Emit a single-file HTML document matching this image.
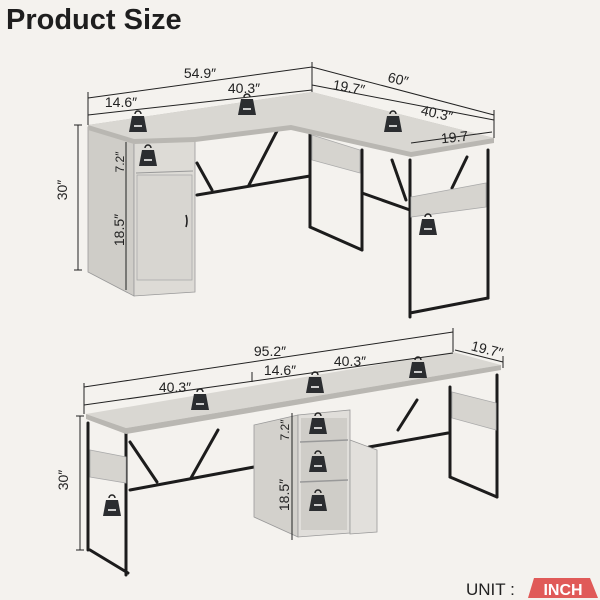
<!DOCTYPE html>
<html><head><meta charset="utf-8"><style>
html,body{margin:0;padding:0;background:#f4f2ee;}
svg{display:block;font-family:"Liberation Sans",sans-serif;}
</style></head><body>
<svg width="600" height="600" viewBox="0 0 600 600">
<defs>
<g id="bag"><path d="M-3,-10 a3,3 0 0 1 6,0" fill="none" stroke="#222" stroke-width="1.5"/><path d="M-6,-8 L6,-8 L9,8 L-9,8 Z" fill="#2b2d30"/><rect x="-4" y="1" width="8" height="2" fill="#ccc"/></g>
</defs>
<rect width="600" height="600" fill="#f4f2ee"/>
<text x="6" y="29" font-size="29" font-weight="bold" fill="#1e1e1e">Product Size</text>

<!-- TOP DESK -->
<g stroke="#1c1c1c" stroke-width="3" fill="none" stroke-linecap="round">
<line x1="197" y1="195" x2="310" y2="176"/>
<line x1="197" y1="163" x2="212" y2="190"/>
<line x1="279" y1="127" x2="249" y2="185"/>
<line x1="310" y1="133" x2="310" y2="227"/>
<line x1="362" y1="150" x2="362" y2="250"/>
<line x1="310" y1="227" x2="362" y2="250"/>
<line x1="362" y1="193" x2="410" y2="210"/>
<line x1="410" y1="160" x2="410" y2="317"/>
<line x1="488" y1="150" x2="488" y2="298"/>
<line x1="410" y1="313" x2="488" y2="298"/>
<line x1="392" y1="160" x2="406" y2="200"/>
<line x1="467" y1="157" x2="452" y2="188"/>
</g>
<polygon points="312,135 360,150 360,173 312,160" fill="#d6d4cf" stroke="#aaa" stroke-width="0.8"/>
<polygon points="411,197 486,183 486,207 411,217" fill="#d6d4cf" stroke="#aaa" stroke-width="0.8"/>
<!-- cabinet -->
<polygon points="88,127 134,140 134,296 88,272" fill="#cfcdc8" stroke="#999" stroke-width="0.8"/>
<polygon points="134,140 195,138 195,292 134,296" fill="#dddbd6" stroke="#999" stroke-width="0.8"/>
<line x1="136" y1="173" x2="193" y2="171" stroke="#999"/>
<rect x="137" y="175" width="55" height="105" fill="#d8d6d1" stroke="#aaa" stroke-width="0.8"/>
<path d="M186,215 q2,6 0,12" stroke="#222" stroke-width="1.6" fill="none"/>
<!-- top surface -->
<polygon points="88,125 312,92 494,138 494,143 411,157 291,130 195,142 134,144 88,130" fill="#b9b7b2"/>
<polygon points="88,125 312,92 494,138 411,152 291,125 195,137 134,139" fill="#d9d7d2"/>
<!-- dims top -->
<g stroke="#222" stroke-width="1" fill="none">
<line x1="88" y1="98" x2="312" y2="67"/><line x1="88" y1="115" x2="312" y2="90"/>
<line x1="312" y1="67" x2="494" y2="115"/><line x1="312" y1="85" x2="494" y2="120"/>
<line x1="88" y1="92" x2="88" y2="125"/><line x1="312" y1="62" x2="312" y2="92"/><line x1="494" y1="110" x2="494" y2="138"/>
<line x1="411" y1="143" x2="492" y2="132"/>
<line x1="78" y1="125" x2="78" y2="270"/><line x1="74" y1="125" x2="82" y2="125"/><line x1="74" y1="270" x2="82" y2="270"/>
<line x1="126" y1="142" x2="126" y2="290"/>
</g>
<g font-size="14" fill="#222" text-anchor="middle">
<text x="200" y="78">54.9″</text>
<text x="244" y="93">40.3″</text>
<text x="121" y="107">14.6″</text>
<text x="348" y="92" transform="rotate(10 348 92)">19.7″</text>
<text x="397" y="84" transform="rotate(14 397 84)">60″</text>
<text x="436" y="118" transform="rotate(12 436 118)">40.3″</text>
<text x="455" y="142" transform="rotate(-6 455 142)">19.7</text>
<text x="67" y="190" transform="rotate(-90 67 190)">30″</text>
<text x="124" y="162" transform="rotate(-90 124 162)" font-size="12">7.2″</text>
<text x="124" y="230" transform="rotate(-90 124 230)">18.5″</text>
</g>
<use href="#bag" x="138" y="124"/><use href="#bag" x="247" y="107"/><use href="#bag" x="393" y="124"/><use href="#bag" x="148" y="158"/><use href="#bag" x="428" y="227"/>

<!-- BOTTOM DESK -->
<g stroke="#1c1c1c" stroke-width="3" fill="none" stroke-linecap="round">
<line x1="126" y1="433" x2="126" y2="575"/>
<line x1="88" y1="423" x2="88" y2="550"/>
<line x1="90" y1="550" x2="128" y2="573"/>
<line x1="130" y1="490" x2="254" y2="467"/>
<line x1="130" y1="442" x2="157" y2="482"/>
<line x1="218" y1="430" x2="191" y2="478"/>
<line x1="369" y1="447" x2="448" y2="433"/>
<line x1="497" y1="375" x2="497" y2="497"/>
<line x1="450" y1="387" x2="450" y2="477"/>
<line x1="450" y1="477" x2="497" y2="497"/>
<line x1="417" y1="400" x2="398" y2="430"/>
</g>
<polygon points="90,450 126,457 126,483 90,477" fill="#d6d4cf" stroke="#aaa" stroke-width="0.8"/>
<polygon points="452,392 496,403 496,430 452,418" fill="#d6d4cf" stroke="#aaa" stroke-width="0.8"/>
<polygon points="254,425 298,415 298,537 254,517" fill="#d3d1cc" stroke="#999" stroke-width="0.8"/>
<polygon points="298,415 350,410 350,533 298,537" fill="#e0deda" stroke="#999" stroke-width="0.8"/>
<rect x="301" y="418" width="46" height="112" fill="#cfcdc8"/>
<line x1="300" y1="442" x2="348" y2="440" stroke="#999" stroke-width="1.5"/>
<line x1="300" y1="482" x2="348" y2="480" stroke="#999" stroke-width="1.5"/>
<polygon points="350,440 377,450 377,532 350,534" fill="#e2e0dc" stroke="#999" stroke-width="0.8"/>
<polygon points="86,414 453,352 501,365 126,428" fill="#d9d7d2"/>
<polygon points="126,428 501,365 501,370 126,434 86,419 86,414" fill="#b9b7b2"/>
<g stroke="#222" stroke-width="1" fill="none">
<line x1="84" y1="387" x2="453" y2="332"/><line x1="84" y1="405" x2="453" y2="353"/>
<line x1="84" y1="383" x2="84" y2="414"/><line x1="453" y1="328" x2="453" y2="352"/><line x1="252" y1="372" x2="252" y2="382"/>
<line x1="455" y1="350" x2="503" y2="362"/><line x1="503" y1="356" x2="503" y2="368"/>
<line x1="80" y1="416" x2="80" y2="550"/><line x1="76" y1="416" x2="84" y2="416"/><line x1="76" y1="550" x2="84" y2="550"/>
<line x1="292" y1="413" x2="292" y2="540"/>
</g>
<g font-size="14" fill="#222" text-anchor="middle">
<text x="270" y="356">95.2″</text>
<text x="350" y="366">40.3″</text>
<text x="280" y="375">14.6″</text>
<text x="175" y="392">40.3″</text>
<text x="486" y="354" transform="rotate(14 486 354)">19.7″</text>
<text x="68" y="480" transform="rotate(-90 68 480)">30″</text>
<text x="289" y="430" transform="rotate(-90 289 430)" font-size="12">7.2″</text>
<text x="289" y="495" transform="rotate(-90 289 495)">18.5″</text>
</g>
<use href="#bag" x="200" y="402"/><use href="#bag" x="315" y="385"/><use href="#bag" x="418" y="370"/><use href="#bag" x="112" y="508"/><use href="#bag" x="318" y="426"/><use href="#bag" x="318" y="464"/><use href="#bag" x="318" y="503"/>

<text x="466" y="595" font-size="17" fill="#222">UNIT :</text>
<polygon points="534,578 590,578 598,598 528,598" fill="#e05a58"/>
<text x="563" y="595" font-size="16" fill="#fff" font-weight="bold" text-anchor="middle">INCH</text>
</svg>
</body></html>
